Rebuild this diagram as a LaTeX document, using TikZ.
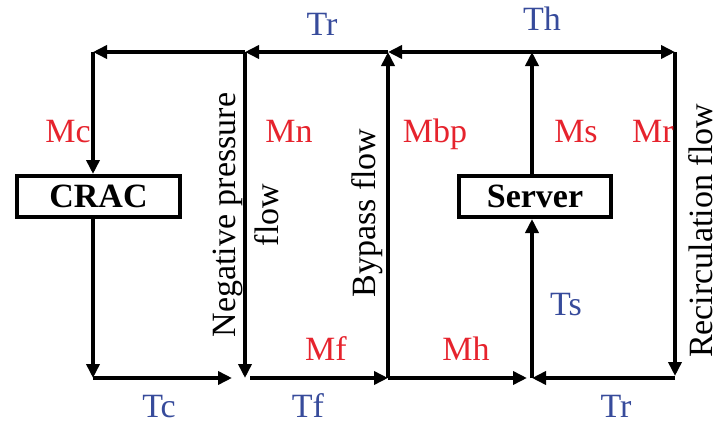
\documentclass[tikz,border=0pt]{standalone}
\usepackage{fontspec}
\setmainfont{Liberation Serif}
\usetikzlibrary{arrows.meta}
\definecolor{flowred}{RGB}{230,35,45}
\definecolor{tempblue}{RGB}{55,75,155}
\newcommand{\bigtxt}{\fontsize{17}{21.5}\selectfont}
\tikzset{
  flow/.style={line width=2pt,-{Triangle[length=7pt,width=6.5pt]}},
  unit/.style={draw,line width=2pt,minimum height=20.5pt,inner sep=0pt,font=\bigtxt\bfseries},
  mlbl/.style={text=flowred,anchor=base},
  tlbl/.style={text=tempblue,anchor=base},
  vlbl/.style={rotate=90,align=center,inner sep=0pt}
}
\begin{document}
\begin{tikzpicture}[x=0.5pt,y=-0.5pt,font=\bigtxt]
\useasboundingbox (0,0) rectangle (719,423);
\foreach \n/\x in {l/93,n/245,b/388,s/532,r/675} {
  \coordinate (t\n) at (\x,52);
  \coordinate (b\n) at (\x,378);
}
\node[unit,minimum width=81.5pt] (crac) at (98.5,196.5) {CRAC};
\node[unit,minimum width=76pt] (server) at (535,196.5) {Server};
\draw[flow] (tn) -- (tl);
\draw[flow] (tl) -- (crac.north -| tl);
\draw[flow] (crac.south -| bl) -- (bl);
\draw[flow,shorten >=6.5pt] (bl) -- (bn);
\draw[flow] (tb) -- (tn);
\draw[flow] (tn) -- (bn);
\draw[flow,shorten <=2.5pt] (bn) -- (bb);
\draw[flow] (bb) -- (tb);
\draw[flow,shorten >=2.5pt] (bb) -- (bs);
\draw[flow] (ts) -- (tb);
\draw[flow] (ts) -- (tr);
\draw[flow,shorten >=1pt] (tr) -- (br);
\draw[flow] (br) -- (bs);
\draw[flow] (bs) -- (server.south -| bs);
\draw[flow] (server.north -| ts) -- (ts);
\foreach \x/\y/\t [count=\i] in {68/142/Mc,289/142/Mn,435/142/Mbp,576/142/Ms,653/142/Mr,326/360/Mf,466/360/Mh}
  \node[mlbl] (m\i) at (\x,\y) {\t};
\foreach \x/\y/\t [count=\i] in {322/35/Tr,542/31/Th,566/315/Ts,159/417/Tc,308/417/Tf,616/417/Tr}
  \node[tlbl] (t\i) at (\x,\y) {\t};
\node[vlbl] (negflow) at (246,215) {Negative pressure\\flow};
\node[vlbl] (bypass) at (367,213) {Bypass flow};
\node[vlbl] (recirc) at (701,231) {Recirculation flow};
\end{tikzpicture}
\end{document}
